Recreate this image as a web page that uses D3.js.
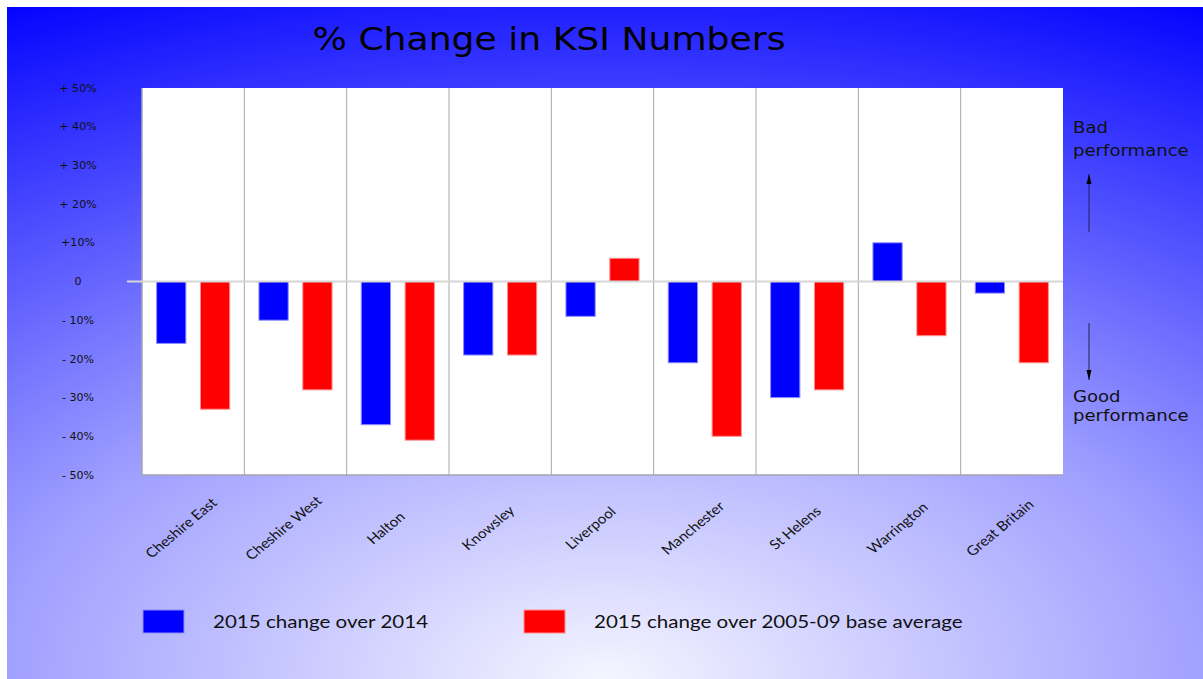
<!DOCTYPE html>
<html>
<head>
<meta charset="utf-8">
<script src="https://cdn.jsdelivr.net/npm/d3@7"></script>
<style>
  body { margin: 0; background: #fff; }
  svg { display: block; }
</style>
</head>
<body>
<div id="graphique"></div>
<script>
//----------------------------------------------------------------
//  données du graphique
//----------------------------------------------------------------
var categories = ["Cheshire East", "Cheshire West", "Halton", "Knowsley", "Liverpool",
                  "Manchester", "St Helens", "Warrington", "Great Britain"];
var series = ["2015 change over 2014", "2015 change over 2005-09 base average"];
var change2014 = [-16, -10, -37, -19, -9, -21, -30, 10, -3];
var changeBase = [-33, -28, -41, -19, 6, -40, -28, -14, -21];
var ticksY = [50, 40, 30, 20, 10, 0, -10, -20, -30, -40, -50];
var labelsY = ["+ 50%", "+ 40%", "+ 30%", "+ 20%", "+10%", "0", "- 10%", "- 20%", "- 30%", "- 40%", "- 50%"];
var couleurs = ["#0000ff", "#ff0000"];

//----------------------------------------------------------------
//  création du svg
//----------------------------------------------------------------
var largeurSvg = 1203, hauteurSvg = 679;
var zone = {gauche: 142, droite: 1063, haut: 88, bas: 475};
var etirement = 1.13;   // le texte de l'original est un peu étiré en largeur

var svg = d3.select("#graphique")
    .append("svg")
    .attr("width", largeurSvg)
    .attr("height", hauteurSvg);

var defs = svg.append("defs");
var grad = defs.append("radialGradient")
    .attr("id", "fond")
    .attr("gradientUnits", "userSpaceOnUse")
    .attr("cx", 605).attr("cy", 679).attr("r", 1400)
    .attr("gradientTransform", "translate(605,679) scale(1,0.54) translate(-605,-679)");
grad.append("stop").attr("offset", 0).attr("stop-color", "#f5f5ff");
grad.append("stop").attr("offset", 0.43).attr("stop-color", "#a0a0ff");
grad.append("stop").attr("offset", 1).attr("stop-color", "#0000ff");

defs.append("marker")
    .attr("id", "fleche")
    .attr("viewBox", "0 0 10 6")
    .attr("refX", 10).attr("refY", 3)
    .attr("markerWidth", 10).attr("markerHeight", 6)
    .attr("markerUnits", "userSpaceOnUse")
    .attr("orient", "auto")
  .append("path")
    .attr("d", "M0,0.5 L10,3 L0,5.5 Z")
    .attr("fill", "#000");

svg.append("rect")
    .attr("x", 7).attr("y", 7)
    .attr("width", largeurSvg - 7).attr("height", hauteurSvg - 7)
    .attr("fill", "url(#fond)");

// titre
svg.append("text")
    .attr("transform", "translate(549,50) scale(" + etirement + ",1)")
    .attr("text-anchor", "middle")
    .style("font-family", "DejaVu Sans")
    .style("font-size", "32px")
    .attr("fill", "#000")
    .text("% Change in KSI Numbers");

//----------------------------------------------------------------
//  échelles
//----------------------------------------------------------------
var x0 = d3.scaleBand()
    .domain(categories)
    .range([zone.gauche, zone.droite])
    .padding(0);
var x1 = d3.scaleBand()
    .domain([0, 1])
    .range([0, x0.bandwidth()])
    .paddingInner(0.333)
    .paddingOuter(0.333);
var y = d3.scaleLinear()
    .domain([-50, 50])
    .range([zone.bas, zone.haut]);

// fond blanc du graphique
svg.append("rect")
    .attr("x", zone.gauche).attr("y", zone.haut)
    .attr("width", zone.droite - zone.gauche)
    .attr("height", zone.bas - zone.haut)
    .attr("fill", "#fff");

// séparations verticales entre catégories
svg.append("g").selectAll("line")
    .data(categories.slice(1))
    .join("line")
    .attr("x1", function(d) { return x0(d); })
    .attr("x2", function(d) { return x0(d); })
    .attr("y1", zone.haut).attr("y2", zone.bas)
    .attr("stroke", "#a9a9a9")
    .attr("stroke-width", 1);

// bordure gauche et bas
svg.append("path")
    .attr("d", "M" + zone.gauche + "," + zone.haut + "V" + zone.bas + "H" + zone.droite)
    .attr("fill", "none")
    .attr("stroke", "#a4a4b4")
    .attr("stroke-width", 1.5);

//----------------------------------------------------------------
//  barres
//----------------------------------------------------------------
var donnees = categories.map(function(c, i) {
    return {cat: c, valeurs: [change2014[i], changeBase[i]]};
});

var groupes = svg.append("g").selectAll("g")
    .data(donnees)
    .join("g")
    .attr("transform", function(d) { return "translate(" + x0(d.cat) + ",0)"; });

groupes.selectAll("rect")
    .data(function(d) { return d.valeurs.map(function(v, j) { return {s: j, v: v}; }); })
    .join("rect")
    .attr("x", function(d) { return x1(d.s); })
    .attr("width", x1.bandwidth())
    .attr("y", function(d) { return y(Math.max(0, d.v)); })
    .attr("height", function(d) { return Math.abs(y(d.v) - y(0)); })
    .attr("fill", function(d) { return couleurs[d.s]; })
    .attr("stroke", function(d) { return d.s == 0 ? "#8c8cff" : "#ff9090"; })
    .attr("stroke-width", 1);

// ligne du zéro
svg.append("line")
    .attr("x1", 127).attr("x2", zone.droite)
    .attr("y1", y(0)).attr("y2", y(0))
    .attr("stroke", "#d6d6d6")
    .attr("stroke-width", 2);

//----------------------------------------------------------------
//  axes
//----------------------------------------------------------------
var axeY = svg.append("g")
    .attr("transform", "translate(78,0)")
    .call(d3.axisLeft(y)
        .tickValues(ticksY)
        .tickSize(0)
        .tickFormat(function(d, i) { return labelsY[i]; }));
axeY.select(".domain").remove();
axeY.selectAll("text")
    .attr("x", 0)
    .attr("text-anchor", "middle")
    .attr("transform", "scale(" + etirement + ",1)")
    .style("font-family", "DejaVu Sans")
    .style("font-size", "9.8px")
    .attr("fill", "#111");

var axeX = svg.append("g")
    .attr("transform", "translate(0," + zone.bas + ")")
    .call(d3.axisBottom(x0).tickSize(0));
axeX.select(".domain").remove();
axeX.selectAll("text")
    .attr("x", 0).attr("y", 0)
    .attr("dy", "0.35em")
    .attr("text-anchor", "middle")
    .attr("transform", "translate(-12,53) scale(" + etirement + ",1) rotate(-43)")
    .style("font-family", "Lato")
    .style("font-size", "13.5px")
    .attr("fill", "#111");

//----------------------------------------------------------------
//  annotations à droite
//----------------------------------------------------------------
var annot = [["Bad", 133], ["performance", 156], ["Good", 402], ["performance", 421]];
svg.append("g").selectAll("text")
    .data(annot)
    .join("text")
    .attr("transform", function(d) { return "translate(1073," + d[1] + ") scale(" + etirement + ",1)"; })
    .style("font-family", "DejaVu Sans")
    .style("font-size", "16px")
    .attr("fill", "#111")
    .text(function(d) { return d[0]; });

svg.append("line")
    .attr("x1", 1089).attr("x2", 1089)
    .attr("y1", 232).attr("y2", 174)
    .attr("stroke", "#222250").attr("stroke-width", 1)
    .attr("marker-end", "url(#fleche)");
svg.append("line")
    .attr("x1", 1089).attr("x2", 1089)
    .attr("y1", 323).attr("y2", 380)
    .attr("stroke", "#222250").attr("stroke-width", 1)
    .attr("marker-end", "url(#fleche)");

//----------------------------------------------------------------
//  légende
//----------------------------------------------------------------
var legende = svg.append("g").selectAll("g")
    .data(series)
    .join("g")
    .attr("transform", function(d, i) { return "translate(" + [143, 524][i] + ",610)"; });
legende.append("rect")
    .attr("width", 41).attr("height", 23)
    .attr("fill", function(d, i) { return couleurs[i]; })
    .attr("stroke", function(d, i) { return i == 0 ? "#8c8cff" : "#ff9090"; });
legende.append("text")
    .attr("transform", "translate(70,12) scale(" + etirement + ",1)")
    .attr("dy", "0.35em")
    .style("font-family", "Lato")
    .style("font-size", "18.2px")
    .attr("fill", "#111")
    .text(function(d) { return d; });
</script>
</body>
</html>
